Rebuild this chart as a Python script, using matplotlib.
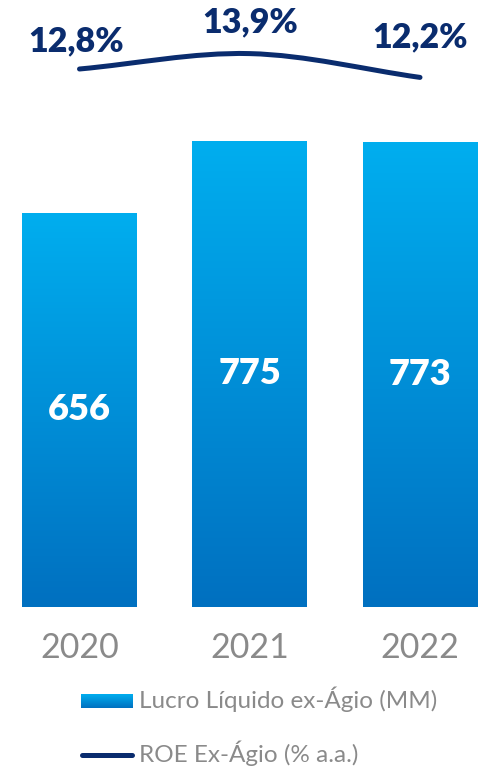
import numpy as np
import matplotlib
matplotlib.use('Agg')
import matplotlib.pyplot as plt
from matplotlib.path import Path
from matplotlib.patches import PathPatch
from matplotlib.colors import LinearSegmentedColormap
from matplotlib.lines import Line2D

years = ['2020', '2021', '2022']
lucro = [656, 775, 773]
roe = [12.8, 13.9, 12.2]
roe_labels = ['12,8%', '13,9%', '12,2%']
legend_labels = ['Lucro Líquido ex-Ágio (MM)', 'ROE Ex-Ágio (% a.a.)']

W, H = 494, 768
navy = '#0a2c6e'
grey = '#8a8a8a'
grad = LinearSegmentedColormap.from_list('g', ['#0070c0', '#00aeef'])
plt.rcParams['font.family'] = ['Lato', 'DejaVu Sans']

fig = plt.figure(figsize=(W / 100, H / 100), dpi=100)

# bars: axis baseline at pixel row 607
ax = fig.add_axes([0, (H - 607) / H, 1, 607 / H])
ax.set_xlim(-79.5 / 170.25, (W - 79.5) / 170.25)
ax.set_ylim(0, 607 / 0.6013)
ax.axis('off')
x = np.arange(len(years))
bars = ax.bar(x, lucro, width=0.675, color='none', edgecolor='none')
g = np.linspace(0, 1, 256).reshape(-1, 1)
for b, v in zip(bars, lucro):
    im = ax.imshow(g, cmap=grad, origin='lower', aspect='auto',
                   extent=[b.get_x(), b.get_x() + b.get_width(), 0, v], zorder=1)
    im.set_clip_path(b)
    ax.text(b.get_x() + b.get_width() / 2, v / 2, str(v), ha='center', va='center',
            color='white', fontsize=26, fontweight='heavy', zorder=3)
ax.set_xlim(-79.5 / 170.25, (W - 79.5) / 170.25)
ax.set_ylim(0, 607 / 0.6013)

for xi, yr in zip(x, years):
    ax.text(xi, -41 / 0.6013, yr, ha='center', va='center', color=grey,
            fontsize=24.5, clip_on=False)

# ROE line on full-figure axes
ax2 = fig.add_axes([0, 0, 1, 1])
ax2.set_xlim(ax.get_xlim())
ax2.set_ylim(12.8 - (H - 69) / 14, 12.8 + 69 / 14)
ax2.axis('off')
pts = np.column_stack([x, roe]).astype(float)
tang = [pts[1] - pts[0], (pts[2] - pts[0]) / 2, pts[2] - pts[1]]
verts = [pts[0]]
codes = [Path.MOVETO]
for i in range(len(pts) - 1):
    verts += [pts[i] + tang[i] / 3, pts[i + 1] - tang[i + 1] / 3, pts[i + 1]]
    codes += [Path.CURVE4] * 3
ax2.add_patch(PathPatch(Path(verts, codes), facecolor='none', edgecolor=navy,
                        lw=3.6, capstyle='round'))
offsets = [(-3, 28), (0, 31), (0, 40)]
for xi, v, lab, off in zip(x, roe, roe_labels, offsets):
    ax2.annotate(lab, (xi, v), xytext=off, textcoords='offset pixels',
                 ha='center', va='center', color=navy, fontsize=24.5, fontweight='heavy')

# legend
lax = fig.add_axes([81 / W, (H - 708) / H, 52 / W, 14 / H])
lax.imshow(g, cmap=grad, origin='lower', aspect='auto')
lax.axis('off')
fig.add_artist(Line2D([82 / W, 132 / W], [(H - 755) / H] * 2, color=navy,
                      lw=3.6, solid_capstyle='round'))
fig.text(139 / W, (H - 708) / H, legend_labels[0], ha='left', va='baseline',
         color=grey, fontsize=17.5)
fig.text(139 / W, (H - 762) / H, legend_labels[1], ha='left', va='baseline',
         color=grey, fontsize=17.5)

fig.savefig('out.png', dpi=100)
